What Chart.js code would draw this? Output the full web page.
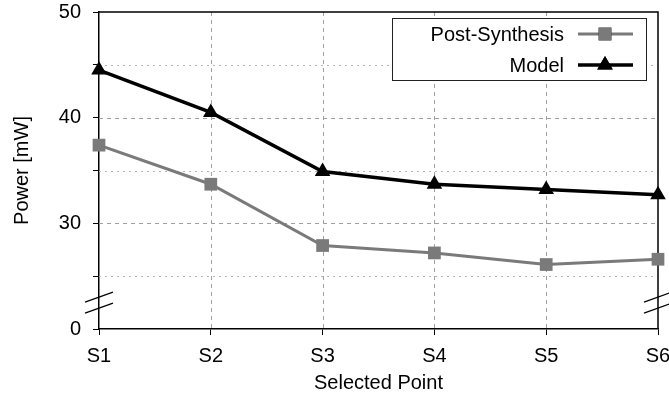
<!DOCTYPE html>
<html>
<head>
<meta charset="utf-8">
<script src="https://cdn.jsdelivr.net/npm/chart.js@4/dist/chart.umd.min.js"></script>
<style>
  html, body { margin: 0; padding: 0; background: #fff; }
  #wrap { width: 669px; height: 402px; }
</style>
</head>
<body>
<div id="wrap"><canvas id="myChart" width="669" height="402"></canvas></div>
<script>
const categories = ['S1', 'S2', 'S3', 'S4', 'S5', 'S6'];
const postSynthesis = [37.4, 33.7, 27.9, 27.2, 26.1, 26.6];
const model = [44.5, 40.5, 34.9, 33.7, 33.2, 32.7];

// y axis is broken: the bottom tick stands for 0
const yTickValues = [20, 25, 30, 35, 40, 45, 50];
const yTickLabels = { 20: '0', 30: '30', 40: '40', 50: '50' };
const majorGrid = [30, 40];
const minorGrid = [25, 35, 45];
const breakValue = 22.5;

const FONT = 'Liberation Sans, Arial, Helvetica, sans-serif';
const GRAY = '#7a7a7a';

const gridPlugin = {
  id: 'gridPlugin',
  beforeDatasetsDraw(chart) {
    const { ctx, chartArea: a, scales } = chart;
    const x = scales.x;
    const y = scales.y;
    ctx.save();
    ctx.lineWidth = 1;
    // dotted minor lines
    ctx.strokeStyle = '#b4b4b4';
    ctx.setLineDash([2, 4]);
    minorGrid.forEach((v) => {
      const py = Math.round(y.getPixelForValue(v)) + 0.5;
      ctx.beginPath();
      ctx.moveTo(a.left, py);
      ctx.lineTo(a.right, py);
      ctx.stroke();
    });
    // dashed major lines
    ctx.strokeStyle = '#a0a0a0';
    ctx.setLineDash([4, 4]);
    majorGrid.forEach((v) => {
      const py = Math.round(y.getPixelForValue(v)) + 0.5;
      ctx.beginPath();
      ctx.moveTo(a.left, py);
      ctx.lineTo(a.right, py);
      ctx.stroke();
    });
    for (let i = 1; i < categories.length - 1; i++) {
      const px = Math.round(x.getPixelForValue(i)) + 0.5;
      ctx.beginPath();
      ctx.moveTo(px, a.top);
      ctx.lineTo(px, a.bottom);
      ctx.stroke();
    }
    // top and right frame
    ctx.setLineDash([]);
    ctx.strokeStyle = '#000';
    ctx.lineWidth = 1.5;
    ctx.beginPath();
    ctx.moveTo(a.left, a.top);
    ctx.lineTo(a.right, a.top);
    ctx.lineTo(a.right, a.bottom);
    ctx.stroke();
    ctx.restore();
  },
  afterDatasetsDraw(chart) {
    const { ctx, chartArea: a, scales } = chart;
    const by = scales.y.getPixelForValue(breakValue);
    ctx.save();
    ctx.strokeStyle = '#000';
    ctx.lineWidth = 1.2;
    [a.left, a.right].forEach((bx) => {
      [-5.5, 5.5].forEach((dy) => {
        ctx.beginPath();
        ctx.moveTo(bx - 14, by + dy + 5);
        ctx.lineTo(bx + 14, by + dy - 5);
        ctx.stroke();
      });
    });

    // legend box
    const right = a.right - 12;
    const left = right - 254;
    const top = a.top + 6;
    ctx.fillStyle = '#fff';
    ctx.fillRect(left, top, 254, 62);
    ctx.strokeStyle = '#222';
    ctx.lineWidth = 1;
    ctx.strokeRect(left + 0.5, top + 0.5, 254, 62);
    ctx.font = '20px ' + FONT;
    ctx.textAlign = 'right';
    ctx.textBaseline = 'middle';
    chart.data.datasets.forEach((ds, i) => {
      const cy = top + 16 + i * 31;
      ctx.fillStyle = '#000';
      ctx.fillText(ds.label, left + 172, cy + 1);
      ctx.strokeStyle = ds.borderColor;
      ctx.lineWidth = ds.borderWidth;
      ctx.beginPath();
      ctx.moveTo(left + 186, cy);
      ctx.lineTo(left + 241, cy);
      ctx.stroke();
      Chart.helpers.drawPoint(ctx, {
        pointStyle: ds.pointStyle,
        radius: ds.pointRadius,
        borderWidth: 0,
        rotation: 0,
      }, left + 213, cy);
      ctx.fillStyle = ds.backgroundColor;
      ctx.fill();
    });
    ctx.restore();
  },
};

const ctx = document.getElementById('myChart').getContext('2d');
const myChart = new Chart(ctx, {
  type: 'line',
  data: {
    labels: categories,
    datasets: [
      {
        label: 'Post-Synthesis',
        data: postSynthesis,
        borderColor: GRAY,
        backgroundColor: GRAY,
        borderWidth: 3,
        pointStyle: 'rect',
        pointRadius: 9,
        pointBorderWidth: 0,
        tension: 0,
        clip: false,
      },
      {
        label: 'Model',
        data: model,
        borderColor: '#000',
        backgroundColor: '#000',
        borderWidth: 3.5,
        pointStyle: 'triangle',
        pointRadius: 9,
        pointBorderWidth: 0,
        tension: 0,
        clip: false,
      },
    ],
  },
  options: {
    responsive: false,
    animation: false,
    events: [],
    layout: { padding: { top: 12, right: 11, left: 0, bottom: 0 } },
    plugins: {
      legend: { display: false },
      tooltip: { enabled: false },
    },
    scales: {
      x: {
        type: 'category',
        offset: false,
        afterFit: (scale) => {
          scale.height = 73;
          scale.paddingLeft = 0;
          scale.paddingRight = 0;
        },
        grid: {
          drawOnChartArea: false,
          drawTicks: true,
          tickLength: 6,
          tickColor: '#000',
        },
        border: { color: '#000', width: 1.5 },
        ticks: {
          color: '#000',
          padding: 9,
          font: { family: FONT, size: 20 },
        },
        title: {
          display: true,
          text: 'Selected Point',
          color: '#000',
          padding: { top: 0, bottom: 7 },
          font: { family: FONT, size: 20 },
        },
      },
      y: {
        type: 'linear',
        min: 20,
        max: 50,
        afterFit: (scale) => {
          scale.width = 99;
          scale.paddingTop = 0;
          scale.paddingBottom = 0;
        },
        afterBuildTicks: (scale) => {
          scale.ticks = yTickValues.map((v) => ({ value: v }));
        },
        grid: {
          drawOnChartArea: false,
          drawTicks: true,
          tickLength: 6,
          tickColor: '#000',
        },
        border: { color: '#000', width: 1.5 },
        ticks: {
          color: '#000',
          padding: 12,
          font: { family: FONT, size: 20 },
          callback: (v) => yTickLabels[v] || '',
        },
        title: {
          display: true,
          text: 'Power [mW]',
          color: '#000',
          padding: { top: 10, bottom: 0 },
          font: { family: FONT, size: 20 },
        },
      },
    },
  },
  plugins: [gridPlugin],
});
</script>
</body>
</html>
